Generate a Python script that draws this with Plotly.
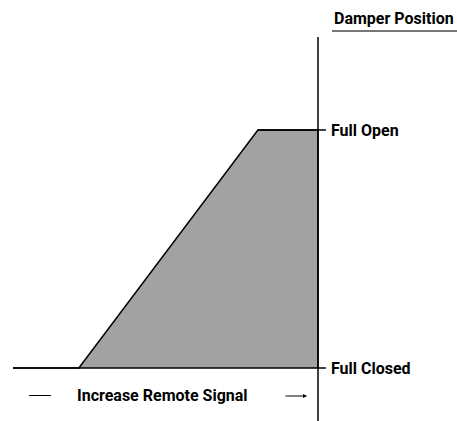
import plotly.graph_objects as go

# Data: remote signal (percent of span) vs damper position (percent open)
signal = [0, 21.6, 80.3, 100, 100]
position = [0, 0, 100, 100, 0]
baseline_x = [0, 102.6]
level_labels = ["Full Closed", "Full Open"]
level_values = [0, 100]

FONT = "Roboto, Arial, sans-serif"
FS = 16
W, H = 457, 421
sx, sy = 3.05, 2.38
x0px, y0px = 13, 368

def X(px):
    return (px - x0px) / sx

def Y(py):
    return (y0px - py) / sy

fig = go.Figure()

fig.add_trace(go.Scatter(
    x=signal, y=position, mode="lines", fill="toself",
    fillcolor="#a2a2a2", line=dict(color="black", width=1.5),
    hoverinfo="skip", showlegend=False))

fig.add_trace(go.Scatter(x=baseline_x, y=[level_values[0]] * 2, mode="lines",
                         line=dict(color="black", width=1.5), showlegend=False, hoverinfo="skip"))
fig.add_trace(go.Scatter(x=[signal[2], baseline_x[1]], y=[level_values[1]] * 2, mode="lines",
                         line=dict(color="black", width=1.5), showlegend=False, hoverinfo="skip"))
fig.add_trace(go.Scatter(x=[100, 100], y=[Y(37), Y(421)], mode="lines",
                         line=dict(color="black", width=1.5), showlegend=False, hoverinfo="skip"))
fig.add_trace(go.Scatter(x=[X(29), X(51)], y=[Y(395.5), Y(395.5)], mode="lines",
                         line=dict(color="black", width=1), showlegend=False, hoverinfo="skip"))
fig.add_trace(go.Scatter(x=[X(332), X(457)], y=[Y(31), Y(31)], mode="lines",
                         line=dict(color="#777777", width=2), showlegend=False, hoverinfo="skip"))

annotations = []
for lab, val in zip(level_labels, level_values):
    annotations.append(dict(x=X(329), y=val, text="<b>%s</b>" % lab, showarrow=False,
                            xanchor="left", yanchor="middle",
                            font=dict(family=FONT, size=FS, color="black")))
annotations.append(dict(x=X(332), y=Y(18), text="<b>Damper Position</b>", showarrow=False,
                        xanchor="left", yanchor="middle",
                        font=dict(family=FONT, size=FS, color="black")))
annotations.append(dict(x=X(75), y=Y(395), text="<b>Increase Remote Signal</b>", showarrow=False,
                        xanchor="left", yanchor="middle",
                        font=dict(family=FONT, size=FS, color="black")))
annotations.append(dict(x=X(307), y=Y(396), ax=X(284), ay=Y(396), xref="x", yref="y",
                        axref="x", ayref="y", text="", showarrow=True,
                        arrowhead=2, arrowsize=0.8, arrowwidth=1, arrowcolor="black"))

fig.update_layout(
    width=W, height=H,
    margin=dict(l=0, r=0, t=0, b=0),
    paper_bgcolor="white", plot_bgcolor="white",
    xaxis=dict(range=[X(0), X(W)], visible=False, fixedrange=True),
    yaxis=dict(range=[Y(H), Y(0)], visible=False, fixedrange=True),
    annotations=annotations,
    showlegend=False,
)

fig.write_html("out.html", config={"displayModeBar": False},
               post_script="document.body.style.margin='0';document.body.style.overflow='hidden';")
